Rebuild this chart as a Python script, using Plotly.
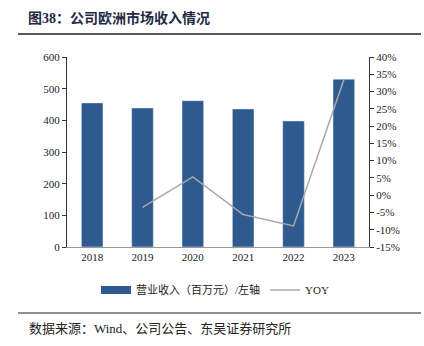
import plotly.graph_objects as go

years = ["2018", "2019", "2020", "2021", "2022", "2023"]
revenue = [455, 439, 462, 436, 398, 530]
yoy_years = ["2019", "2020", "2021", "2022", "2023"]
yoy = [-3.5, 5.3, -5.6, -8.9, 33.4]
left_ticks = [0, 100, 200, 300, 400, 500, 600]
right_ticks = list(range(-15, 45, 5))

W, H = 424, 346
L, R, T, B = 67, 369, 57, 247
def px(x): return (x - L) / (R - L)
def py(y): return (B - y) / (B - T)

serif = "Liberation Serif, Noto Sans CJK SC, serif"
bar_color = "#2F5A8F"
fig = go.Figure()
fig.add_trace(go.Bar(x=years, y=revenue, name="营业收入（百万元）/左轴",
                     marker_color=bar_color, width=0.43, showlegend=False))
# legend-only entry with a wide rectangular swatch like the reference
fig.add_trace(go.Scatter(x=[None], y=[None], name="营业收入（百万元）/左轴", mode="lines",
                         line=dict(color=bar_color, width=8)))
fig.add_trace(go.Scatter(x=yoy_years, y=yoy, name="YOY", yaxis="y2", mode="lines",
                         line=dict(color="#A8A8A8", width=1.5)))

fig.update_layout(
    width=W, height=H, margin=dict(l=L, r=W - R, t=T, b=H - B),
    paper_bgcolor="white", plot_bgcolor="white",
    font=dict(family=serif, size=11, color="#222"),
    xaxis=dict(showline=True, linecolor="#999", linewidth=1, ticks="", showgrid=False,
               tickfont=dict(size=11, color="#222")),
    yaxis=dict(range=[0, 600], tickvals=left_ticks, showline=True, linecolor="#333",
               ticks="outside", ticklen=4, tickcolor="#333", showgrid=False, zeroline=False),
    yaxis2=dict(range=[-15, 40], tickvals=right_ticks, ticktext=[f"{v}%" for v in right_ticks],
                overlaying="y", side="right", showline=True, linecolor="#333",
                ticks="outside", ticklen=4, tickcolor="#333", showgrid=False, zeroline=False),
    legend=dict(orientation="h", x=0.49, xanchor="center", y=py(290), yanchor="middle",
                font=dict(size=11, color="#222"), tracegroupgap=0),
    showlegend=True,
)
fig.add_annotation(text="<b>图38：公司欧洲市场收入情况</b>", xref="paper", yref="paper",
                   x=px(26), y=py(18), xanchor="left", yanchor="middle", showarrow=False,
                   font=dict(size=14, color="#1F2A44", family=serif))
fig.add_shape(type="line", xref="paper", yref="paper", x0=px(18), x1=px(421), y0=py(34), y1=py(34),
              line=dict(color="#222", width=1.5))
fig.add_shape(type="line", xref="paper", yref="paper", x0=px(18), x1=px(421), y0=py(313), y1=py(313),
              line=dict(color="#222", width=1.2))
fig.add_annotation(text="数据来源：Wind、公司公告、东吴证券研究所", xref="paper", yref="paper",
                   x=px(27), y=py(328), xanchor="left", yanchor="middle", showarrow=False,
                   font=dict(size=13, color="#222", family=serif))
fig.write_html("out.html")
